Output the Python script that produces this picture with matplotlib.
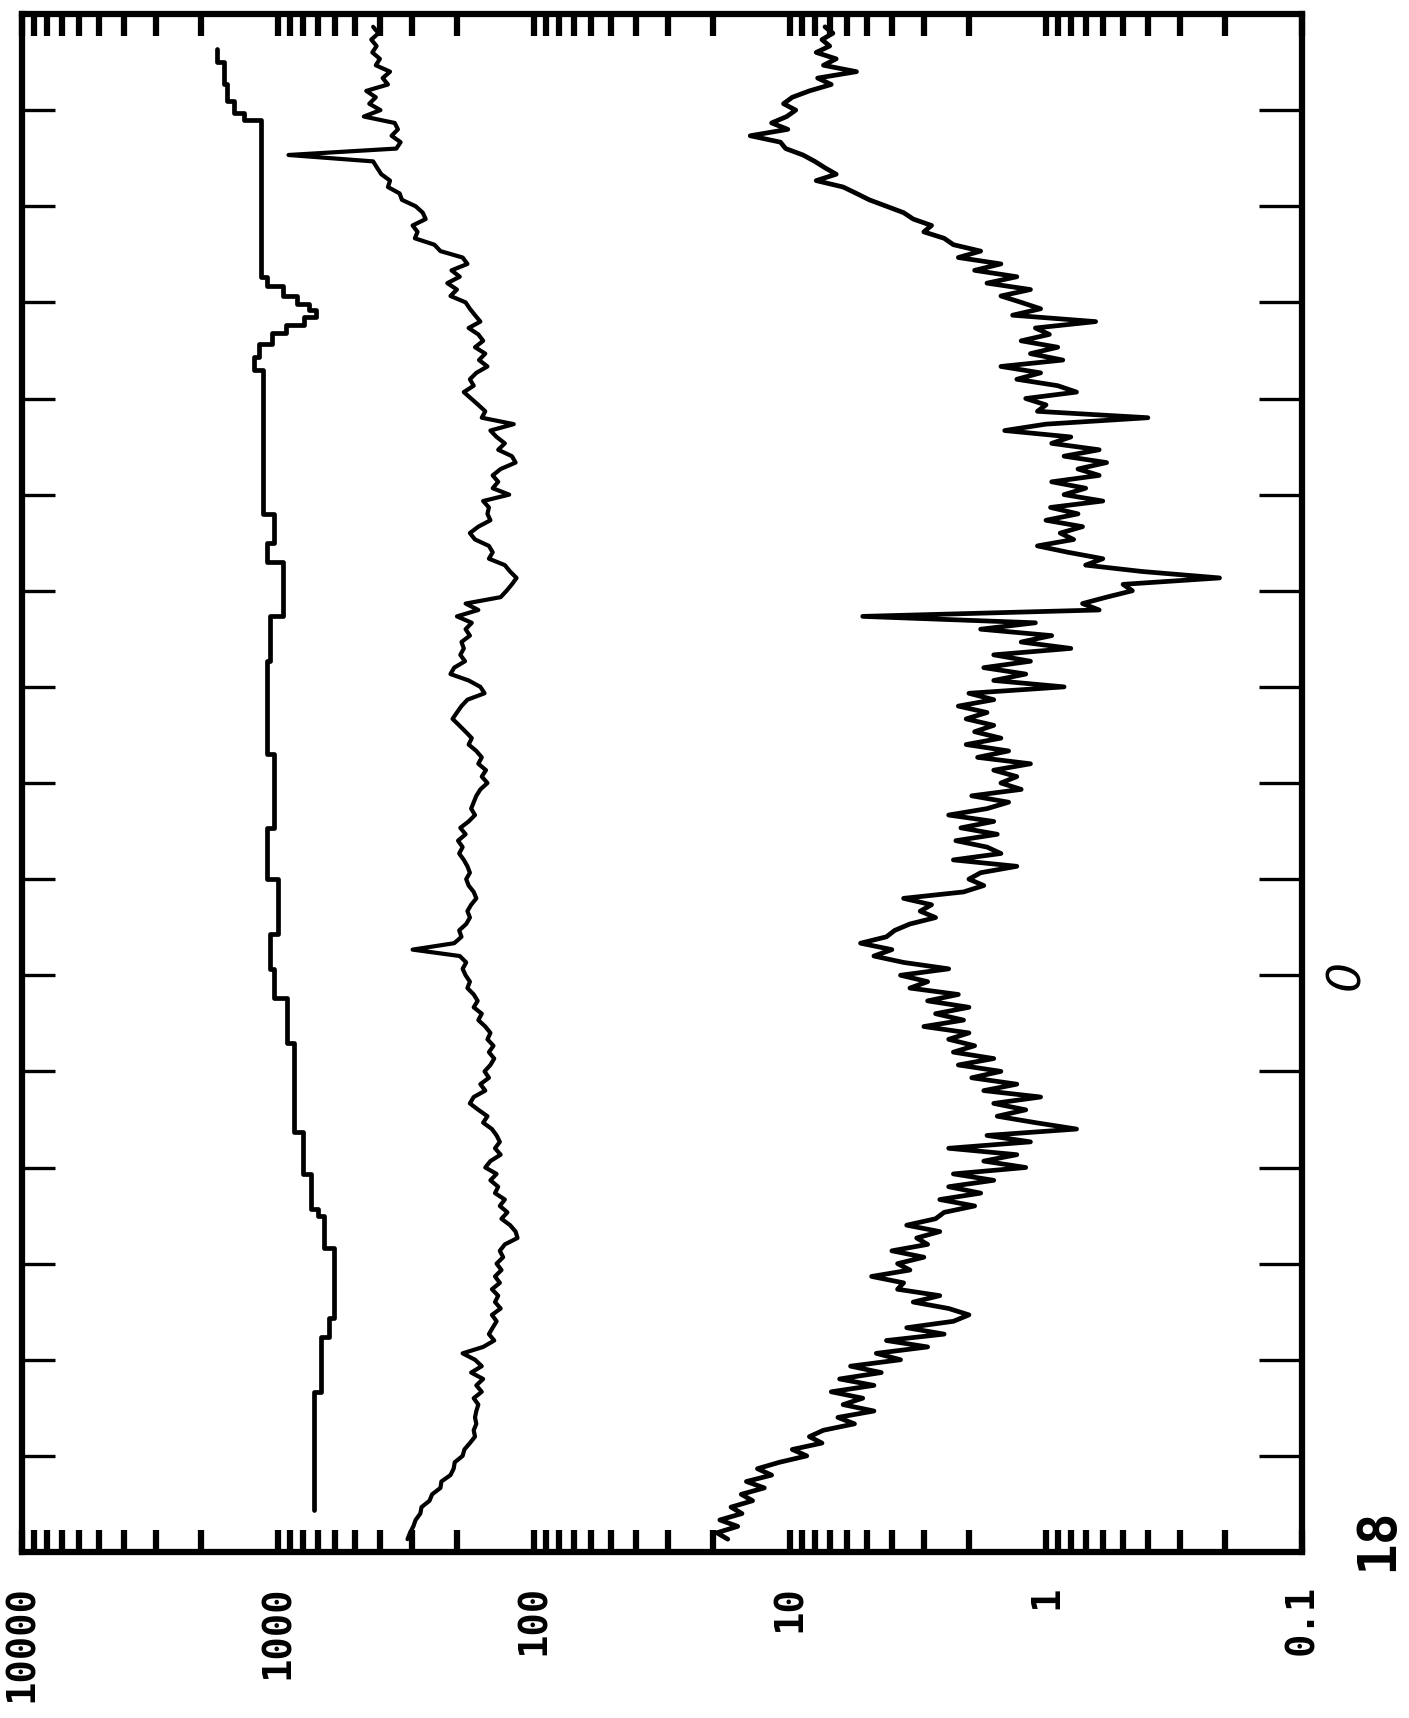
import numpy as np
import matplotlib.pyplot as plt
from matplotlib.ticker import LogLocator, NullFormatter, FixedLocator
from matplotlib.transforms import blended_transform_factory

# noisy spectra are binned every 0.2 units, starting at -29.6
chan_start, chan_step = -29.6, 0.2

# upper smooth trace: step start positions and counts
trace_a_pos = [-28.9, -28.5, -27.8, -27.3, -26.9, -26.7, -21.8, -21.5, -21.2, -20.95,
               -20.75, -20.55, -20.3, -20.05, -19.7, -19.3, -18.9, -14.4, -13.5, -12.9,
               -11.2, -9.8, -6.9, -4.6, -3.0, -1.3, -0.2, 0.7, 2.1, 4.9,
               6.2, 7.3, 7.5, 8.5, 10.7, 11.3, 13.0, 16.7]
trace_a_val = [1730, 1630, 1580, 1490, 1360, 1170, 1100, 960, 840, 760,
               710, 790, 930, 1060, 1190, 1245, 1140, 1040, 1100, 960,
               1070, 1100, 1040, 1100, 1000, 1070, 1040, 920, 867, 800,
               746, 700, 661, 604, 630, 681, 723, 723]

# middle trace, one count per bin
trace_b_val = [425, 405, 432, 412, 428, 400, 415, 365, 390, 372,
               452, 415, 440, 398, 462, 350, 340, 360, 332, 345,
               910, 425, 410, 395, 365, 372, 335, 328, 290, 272,
               265, 298, 285, 292, 245, 232, 190, 182, 210, 195,
               218, 200, 212, 185, 178, 170, 162, 180, 165, 158,
               170, 155, 164, 152, 168, 178, 172, 188, 176, 165,
               155, 160, 120, 148, 140, 130, 138, 122, 118, 135,
               145, 138, 145, 125, 158, 150, 152, 148, 165, 178,
               170, 150, 145, 150, 130, 124, 117, 122, 128, 135,
               185, 165, 200, 175, 185, 178, 192, 188, 194, 186,
               205, 212, 180, 162, 156, 182, 192, 200, 208, 196,
               185, 175, 180, 168, 160, 165, 154, 160, 152, 162,
               168, 172, 176, 170, 180, 194, 185, 198, 190, 196,
               188, 182, 178, 184, 180, 172, 168, 176, 182, 178,
               184, 196, 192, 205, 298, 195, 184, 190, 185, 178,
               182, 172, 166, 172, 160, 165, 155, 148, 152, 144,
               150, 143, 148, 156, 150, 162, 155, 172, 178, 165,
               152, 158, 146, 140, 136, 142, 135, 148, 155, 140,
               148, 138, 142, 130, 136, 127, 134, 124, 118, 116,
               130, 136, 132, 140, 134, 142, 136, 146, 138, 142,
               135, 146, 140, 145, 150, 143, 158, 190, 170, 160,
               176, 158, 168, 160, 172, 165, 168, 170, 168, 172,
               170, 178, 187, 190, 204, 206, 212, 230, 232, 250,
               256, 275, 278, 290, 296, 305, 312]

# lower trace, one count per bin
trace_c_val = [7.3, 6.8, 7.5, 7.0, 7.9, 6.6, 7.4, 5.5, 7.8, 6.9,
               8.4, 9.8, 10.6, 9.5, 10.3, 11.8, 10.2, 14.3, 10.9, 10.4,
               8.9, 8.0, 7.3, 6.6, 7.9, 6.2, 5.5, 4.9, 4.2, 3.6,
               3.3, 2.8, 3.0, 2.5, 2.3, 1.8, 2.2, 1.5, 1.9, 1.3,
               1.7, 1.15, 1.5, 1.25, 1.05, 1.35, 0.64, 1.1, 0.97, 1.25,
               0.9, 1.15, 0.86, 1.5, 1.05, 1.3, 0.9, 0.76, 1.2, 1.0,
               1.08, 0.40, 1.0, 1.45, 0.8, 0.95, 0.62, 0.85, 0.58, 0.75,
               0.62, 0.95, 0.7, 0.85, 0.6, 0.96, 0.75, 1.0, 0.72, 0.88,
               0.78, 1.08, 0.82, 0.6, 0.7, 0.42, 0.21, 0.5, 0.46, 0.58,
               0.72, 0.62, 5.2, 1.1, 1.8, 0.95, 1.25, 0.8, 1.6, 1.15,
               1.75, 1.2, 1.6, 0.85, 2.0, 1.6, 2.2, 1.7, 2.05, 1.6,
               1.9, 1.5, 2.05, 1.4, 1.85, 1.15, 1.6, 1.3, 1.5, 1.25,
               1.95, 1.4, 1.7, 2.4, 1.6, 2.15, 1.55, 2.25, 1.7, 1.5,
               2.3, 1.3, 1.8, 2.0, 1.75, 2.1, 3.6, 2.8, 3.1, 2.7,
               3.4, 3.9, 4.2, 5.3, 4.0, 4.7, 3.6, 2.4, 3.7, 2.9,
               3.4, 2.2, 2.9, 2.0, 2.7, 2.1, 3.0, 2.0, 2.4, 1.9,
               2.3, 1.6, 2.2, 1.5, 1.95, 1.3, 1.75, 1.05, 1.6, 1.2,
               1.55, 1.1, 0.76, 1.7, 1.15, 2.4, 1.3, 1.75, 1.2, 2.3,
               1.6, 2.4, 1.8, 2.6, 1.9, 2.5, 2.7, 3.5, 2.6, 3.2,
               2.9, 4.0, 3.0, 3.8, 3.4, 4.8, 3.6, 3.8, 2.6, 3.3,
               2.4, 2.0, 2.3, 3.5, 2.5, 4.2, 2.9, 4.6, 3.7, 5.8,
               4.4, 6.4, 4.7, 6.9, 5.2, 6.2, 4.7, 6.5, 5.6, 7.4,
               8.4, 7.5, 9.8, 8.6, 11.0, 13.4, 11.8, 14.8, 12.6, 15.5,
               14.0, 17.0, 15.4, 18.8, 16.0, 19.3, 17.5]

decade_ticks = [1e4, 1e3, 1e2, 1e1, 1e0, 1e-1]
decade_labels = ['10000', '1000', '100', '10', '1', '0.1']
pos_ticks = list(range(-27, 18, 3))


def bin_positions(values):
    return chan_start + chan_step * np.arange(len(values))


W, H = 1409, 1718
fig = plt.figure(figsize=(W / 100, H / 100), dpi=100)
fig.patch.set_facecolor('white')
left, right, top, bottom = 22, 1302, 14, 1552
ax = fig.add_axes([left / W, 1 - bottom / H, (right - left) / W, (bottom - top) / H])

line_kw = dict(color='black', solid_capstyle='round', solid_joinstyle='round')
ax.plot(trace_a_val, trace_a_pos, drawstyle='steps-pre', lw=3.4, **line_kw)
ax.plot(trace_b_val, bin_positions(trace_b_val), lw=3.0, **line_kw)
ax.plot(trace_c_val, bin_positions(trace_c_val), lw=3.4, **line_kw)

ax.set_xscale('log')
ax.set_xlim(1e4, 1e-1)
ax.set_ylim(18, -30)

for s in ax.spines.values():
    s.set_linewidth(4.5)

ax.xaxis.set_major_locator(FixedLocator(decade_ticks))
ax.set_xticklabels(decade_labels)
ax.xaxis.set_minor_locator(LogLocator(base=10, subs=np.arange(2, 10), numticks=20))
ax.xaxis.set_minor_formatter(NullFormatter())
ax.tick_params(axis='x', which='both', direction='in', top=True, bottom=True,
               length=16, width=4.5, pad=24)
for lab in ax.get_xticklabels():
    lab.set_rotation(90)
    lab.set_fontfamily('DejaVu Sans Mono')
    lab.set_fontweight('bold')
    lab.set_fontsize(28)
    lab.set_va('top')

ax.set_yticks(pos_ticks)
ax.set_yticklabels([])
ax.tick_params(axis='y', which='major', direction='in', left=True, right=False,
               length=24, width=2.4)

# longer ticks along the right edge
ax_r = ax.twinx()
ax_r.set_ylim(18, -30)
ax_r.set_yticks(pos_ticks)
ax_r.set_yticklabels([])
ax_r.tick_params(axis='y', direction='in', length=31, width=2.4)
for s in ax_r.spines.values():
    s.set_visible(False)

trans = blended_transform_factory(ax.transAxes, ax.transData)
ax.text(1.059, 17.6, '18', transform=trans, rotation=90, ha='center', va='center',
        fontsize=38, fontweight='bold', family='DejaVu Sans Mono')
ax.text(1.035, 0, '0', transform=trans, rotation=90, ha='center', va='center',
        fontsize=34, fontstyle='italic', family='DejaVu Sans')

fig.savefig('out.png', dpi=100, facecolor='white')
